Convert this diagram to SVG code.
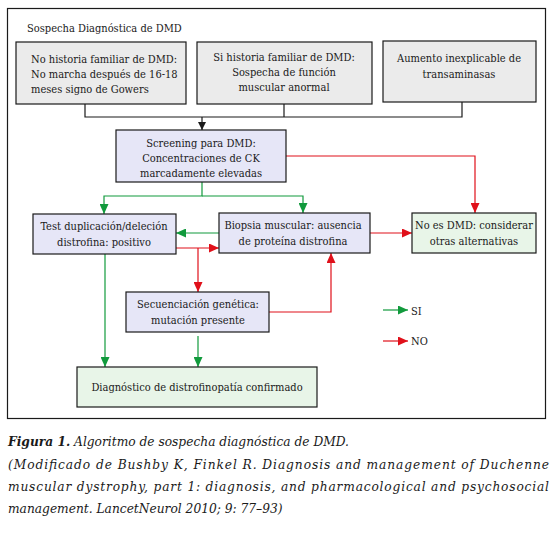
<svg xmlns="http://www.w3.org/2000/svg" width="559" height="535" viewBox="0 0 559 535">
<style>
.t{font-size:11px;fill:#1a1a1a}
.c{text-anchor:middle}
.gray{fill:#ebebeb;stroke:#1a1a1a;stroke-width:1.2}
.lav{fill:#e6e6f7;stroke:#1a1a1a;stroke-width:1.2}
.grn{fill:#e8f5e8;stroke:#1a1a1a;stroke-width:1.2}
.k{fill:none;stroke:#1a1a1a;stroke-width:1.2}
.g{fill:none;stroke:#119a3c;stroke-width:1.2}
.r{fill:none;stroke:#e0101a;stroke-width:1.2}
.cap{font-size:13.6px;font-style:italic;fill:#1a1a1a}
</style>
<defs>
<marker id="ak" markerWidth="8" markerHeight="8" refX="8" refY="4" orient="auto" markerUnits="userSpaceOnUse"><path d="M0,0 L8,4 L0,8 z" fill="#1a1a1a"/></marker>
<marker id="ag" markerWidth="10" markerHeight="9" refX="10" refY="4.5" orient="auto" markerUnits="userSpaceOnUse"><path d="M0,0 L10,4.5 L0,9 z" fill="#119a3c"/></marker>
<marker id="ar" markerWidth="10" markerHeight="9" refX="10" refY="4.5" orient="auto" markerUnits="userSpaceOnUse"><path d="M0,0 L10,4.5 L0,9 z" fill="#e0101a"/></marker>
</defs>
<rect width="559" height="535" fill="#fff"/>
<rect x="7.5" y="8.5" width="538" height="410" fill="none" stroke="#1a1a1a" stroke-width="1.2"/>

<g id="connectors">
<path class="k" d="M85,104 V117 H462 V102"/>
<path class="k" d="M284,104 V117"/>
<path class="k" d="M202,117 V130" marker-end="url(#ak)"/>
<path class="g" d="M202,182 V196 H104 V214" marker-end="url(#ag)"/>
<path class="g" d="M202,196 H303 V213" marker-end="url(#ag)"/>
<path class="r" d="M286,156 H475 V213" marker-end="url(#ar)"/>
<path class="g" d="M219,233 H176" marker-end="url(#ag)"/>
<path class="r" d="M176,248 H219" marker-end="url(#ar)"/>
<path class="r" d="M198,248 V292" marker-end="url(#ar)"/>
<path class="r" d="M370,233 H412" marker-end="url(#ar)"/>
<path class="r" d="M269,312 H331 V253" marker-end="url(#ar)"/>
<path class="g" d="M105,254 V367" marker-end="url(#ag)"/>
<path class="g" d="M198,336 V367" marker-end="url(#ag)"/>
<path class="g" d="M383,310 H408" marker-end="url(#ag)"/>
<path class="r" d="M383,341 H408" marker-end="url(#ar)"/>
</g>

<g font-family="DejaVu Serif Condensed, DejaVu Serif, serif">
<text class="t" x="27" y="32">Sospecha Diagnóstica de DMD</text>

<g id="n1"><rect class="gray" x="16" y="42" width="170" height="62"/>
<text class="t" x="31" y="63">No historia familiar de DMD:</text>
<text class="t" x="31" y="78">No marcha después de 16-18</text>
<text class="t" x="31" y="93">meses signo de Gowers</text></g>

<g id="n2"><rect class="gray" x="197" y="42" width="175" height="62"/>
<text class="t c" x="284" y="61">Si historia familiar de DMD:</text>
<text class="t c" x="284" y="76">Sospecha de función</text>
<text class="t c" x="284" y="91">muscular anormal</text></g>

<g id="n3"><rect class="gray" x="383" y="41" width="153" height="61"/>
<text class="t c" x="459" y="62">Aumento inexplicable de</text>
<text class="t c" x="459" y="78">transaminasas</text></g>

<g id="n4"><rect class="lav" x="116" y="130" width="170" height="52"/>
<text class="t c" x="201" y="147">Screening para DMD:</text>
<text class="t c" x="201" y="162">Concentraciones de CK</text>
<text class="t c" x="201" y="177">marcadamente elevadas</text></g>

<g id="n5"><rect class="lav" x="33" y="214" width="143" height="40"/>
<text class="t c" x="104" y="230">Test duplicación/deleción</text>
<text class="t c" x="104" y="246">distrofina: positivo</text></g>

<g id="n6"><rect class="lav" x="219" y="213" width="151" height="40"/>
<text class="t c" x="293" y="229">Biopsia muscular: ausencia</text>
<text class="t c" x="293" y="245">de proteína distrofina</text></g>

<g id="n7"><rect class="grn" x="412" y="213" width="124" height="40"/>
<text class="t c" x="474" y="229">No es DMD: considerar</text>
<text class="t c" x="474" y="245">otras alternativas</text></g>

<g id="n8"><rect class="lav" x="126" y="292" width="143" height="40"/>
<text class="t c" x="198" y="308">Secuenciación genética:</text>
<text class="t c" x="198" y="324">mutación presente</text></g>

<g id="n9"><rect class="grn" x="77" y="367" width="240" height="40"/>
<text class="t c" x="197" y="391">Diagnóstico de distrofinopatía confirmado</text></g>

<g id="legend">
<text class="t" x="411" y="315">SI</text>
<text class="t" x="411" y="345">NO</text>
</g>

<g id="caption">
<text class="cap" x="8" y="446"><tspan font-weight="bold">Figura 1.</tspan> Algoritmo de sospecha diagnóstica de DMD.</text>
<text class="cap" x="8" y="469" textLength="541" lengthAdjust="spacing">(Modificado de Bushby K, Finkel R. Diagnosis and management of Duchenne</text>
<text class="cap" x="8" y="491" textLength="541" lengthAdjust="spacing">muscular dystrophy, part 1: diagnosis, and pharmacological and psychosocial</text>
<text class="cap" x="8" y="513">management. LancetNeurol 2010; 9: 77–93)</text>
</g>
</g>
</svg>
